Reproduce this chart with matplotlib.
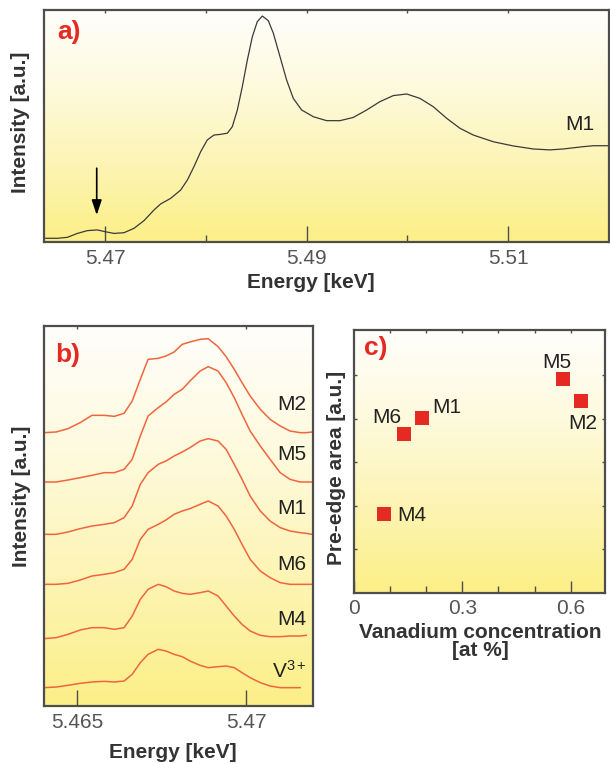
import numpy as np
import matplotlib
matplotlib.use("Agg")
import matplotlib.pyplot as plt
from matplotlib.colors import LinearSegmentedColormap

plt.rcParams['font.family'] = ['Liberation Sans', 'DejaVu Sans']
plt.rcParams['mathtext.fontset'] = 'custom'
plt.rcParams['mathtext.rm'] = 'Liberation Sans'
plt.rcParams['mathtext.it'] = 'Liberation Sans:italic'
plt.rcParams['mathtext.bf'] = 'Liberation Sans:bold'

# ---------------- data ----------------
# (a) full XANES spectrum of sample M1
energy_a = [5.46411, 5.46527, 5.46626, 5.46726, 5.46825, 5.46924, 5.47007, 5.47089,
            5.47188, 5.47288, 5.47387, 5.47486, 5.47552, 5.47651, 5.47751, 5.47817,
            5.47883, 5.47949, 5.48015, 5.48081, 5.48148, 5.48214, 5.48263, 5.48313,
            5.48362, 5.48412, 5.48462, 5.48511, 5.48561, 5.48620, 5.48670, 5.48736,
            5.48802, 5.48868, 5.48951, 5.49067, 5.49199, 5.49331, 5.49464, 5.49596,
            5.49728, 5.49860, 5.49993, 5.50125, 5.50257, 5.50390, 5.50522, 5.50654,
            5.50853, 5.51051, 5.51249, 5.51415, 5.51547, 5.51646, 5.51745, 5.51845,
            5.51994]
intensity_a = [0.016, 0.016, 0.020, 0.037, 0.049, 0.052, 0.044, 0.037,
               0.040, 0.059, 0.092, 0.138, 0.164, 0.188, 0.224, 0.267,
               0.325, 0.389, 0.440, 0.461, 0.464, 0.469, 0.497, 0.569,
               0.669, 0.784, 0.885, 0.950, 0.974, 0.954, 0.900, 0.799,
               0.698, 0.619, 0.569, 0.540, 0.523, 0.523, 0.537, 0.569,
               0.605, 0.631, 0.638, 0.619, 0.583, 0.533, 0.490, 0.461,
               0.432, 0.414, 0.401, 0.397, 0.401, 0.406, 0.411, 0.415,
               0.415]
pre_edge_energy = 5.46918

# (b) pre-edge region, vertically stacked spectra
energy_b = [5.46401, 5.46437, 5.46472, 5.46508, 5.46543, 5.46579, 5.46609, 5.46638,
            5.46662, 5.46686, 5.46709, 5.46739, 5.46762, 5.46786, 5.46810, 5.46833,
            5.46863, 5.46887, 5.46916, 5.46940, 5.46964, 5.46987, 5.47011, 5.47041,
            5.47070, 5.47100, 5.47129, 5.47159, 5.47177, 5.47194]
nan = np.nan
spec_M2 = [8.20, 8.22, 8.32, 8.50, 8.72, 8.72, 8.69, 8.78, 9.15, 9.80,
           10.40, 10.43, 10.50, 10.62, 10.85, 10.92, 11.00, 11.02, 10.78, 10.48,
           10.10, 9.70, 9.30, 8.90, 8.60, 8.40, 8.25, 8.20, 8.20, 8.22]
spec_M5 = [6.72, 6.72, 6.78, 6.85, 6.92, 7.00, 7.00, 7.10, 7.40, 8.10,
           8.70, 8.95, 9.12, 9.35, 9.50, 9.75, 10.05, 10.18, 10.05, 9.70,
           9.25, 8.75, 8.25, 7.80, 7.40, 7.00, 6.80, 6.72, 6.72, 6.72]
spec_M1 = [5.15, 5.15, 5.22, 5.32, 5.40, 5.45, 5.50, 5.65, 6.00, 6.65,
           7.00, 7.25, 7.35, 7.50, 7.62, 7.75, 7.95, 8.02, 7.95, 7.70,
           7.25, 6.80, 6.30, 5.85, 5.55, 5.35, 5.25, 5.20, 5.18, 5.15]
spec_M6 = [3.65, 3.65, 3.68, 3.78, 3.90, 3.95, 4.00, 4.10, 4.40, 5.00,
           5.30, 5.45, 5.58, 5.75, 5.85, 5.92, 6.05, 6.15, 6.00, 5.70,
           5.30, 4.85, 4.40, 4.05, 3.85, 3.70, 3.65, 3.65, 3.65, 3.65]
spec_M4 = [2.02, 2.05, 2.15, 2.28, 2.35, 2.35, 2.30, 2.35, 2.70, 3.20,
           3.50, 3.65, 3.58, 3.45, 3.38, 3.35, 3.40, 3.45, 3.30, 3.00,
           2.70, 2.45, 2.25, 2.12, 2.08, 2.08, 2.10, 2.10, 2.12, nan]
spec_V3 = [0.55, 0.57, 0.62, 0.68, 0.72, 0.74, 0.72, 0.75, 0.95, 1.30,
           1.55, 1.70, 1.65, 1.55, 1.48, 1.35, 1.22, 1.15, 1.18, 1.20,
           1.15, 1.00, 0.85, 0.70, 0.60, 0.55, 0.55, 0.55, nan, nan]
spectra_b = [spec_M2, spec_M5, spec_M1, spec_M6, spec_M4, spec_V3]
labels_b = ['M2', 'M5', 'M1', 'M6', 'M4', r'V$^{3+}$']
label_y_b = [9.05, 7.55, 5.92, 4.25, 2.60, 1.05]

# (c) pre-edge area vs vanadium concentration
samples_c = ['M4', 'M6', 'M1', 'M5', 'M2']
conc_c = [0.084, 0.1375, 0.188, 0.579, 0.628]
area_c = [1.81, 3.65, 4.02, 4.91, 4.41]
label_offsets_c = [(27, -1), (-17, 17), (25, 10), (-6, 17), (2, -23)]

# ---------------- style ----------------
W, H = 610, 764
RED = '#e42a22'
FRAME = '#4d4d4d'
TICKLABEL = '#555555'
SPEC_B = '#f0653d'
grad = LinearSegmentedColormap.from_list(
    'paper', ['#fcef87', '#fdf4b4', '#fefadd', '#fffefb'])

fig = plt.figure(figsize=(W / 100, H / 100), dpi=100)


def px_axes(left, top, right, bottom):
    return fig.add_axes([left / W, 1 - bottom / H, (right - left) / W, (bottom - top) / H])


def style(ax):
    ax.imshow(np.linspace(0, 1, 256)[:, None], extent=(0, 1, 0, 1), origin='lower',
              transform=ax.transAxes, aspect='auto', cmap=grad, zorder=0,
              interpolation='bicubic')
    for s in ax.spines.values():
        s.set_color(FRAME)
        s.set_linewidth(1.6)
        s.set_zorder(5)


def top_ticks(ax, ticks):
    sec = ax.secondary_xaxis('top')
    sec.set_xticks(ticks)
    sec.tick_params(direction='in', length=2.5, width=1.0, color=FRAME, labeltop=False)
    sec.spines['top'].set_visible(False)


def ftext(x, y, s, **kw):
    fig.text(x / W, 1 - y / H, s, ha='center', va='center', **kw)


# ---------------- panel a ----------------
ax = px_axes(44, 10, 609, 242)
style(ax)
ax.plot(energy_a, intensity_a, color='#3a3a3a', lw=0.9, zorder=3)
ax.set_xlim(5.46395, 5.5200)
ax.set_ylim(0, 1.0)
ax.set_yticks([])
ax.set_xticks([5.47, 5.49, 5.51])
ax.set_xticklabels(['5.47', '5.49', '5.51'])
ax.set_xticks([5.48, 5.50], minor=True)
ax.tick_params(axis='x', which='major', direction='in', length=11.5, width=1.0,
               color=FRAME, labelsize=15, labelcolor=TICKLABEL, pad=5)
ax.tick_params(axis='x', which='minor', direction='in', length=5, width=1.0, color=FRAME)
top_ticks(ax, [5.47, 5.48, 5.49, 5.50, 5.51])
ax.annotate('', xy=(pre_edge_energy, 0.116), xytext=(pre_edge_energy, 0.318),
            arrowprops=dict(arrowstyle='-|>,head_length=0.9,head_width=0.3',
                            color='black', lw=1.2, shrinkA=0, shrinkB=0), zorder=4)
ax.text(0.044, 0.906, 'a)', transform=ax.transAxes, ha='center', va='center',
        color=RED, fontsize=19, fontweight='bold')
ax.text(0.949, 0.505, 'M1', transform=ax.transAxes, ha='center', va='center',
        color='#222222', fontsize=15)
ftext(311, 283, 'Energy [keV]', fontsize=15, fontweight='bold', color='#333333')
ftext(21, 122, 'Intensity [a.u.]', fontsize=15, fontweight='bold', color='#333333',
      rotation=90)

# ---------------- panel b ----------------
bx = px_axes(44, 326, 313, 706)
style(bx)
for spec, lab, ly in zip(spectra_b, labels_b, label_y_b):
    bx.plot(energy_b, spec, color=SPEC_B, lw=1.1, zorder=3, solid_joinstyle='round')
    bx.text(5.47177, ly, lab, ha='right', va='center', fontsize=15, color='#222222')
bx.set_xlim(5.46401, 5.47197)
bx.set_ylim(0, 11.4)
bx.set_yticks([])
bx.set_xticks([5.465, 5.47])
bx.set_xticklabels(['5.465', '5.47'])
bx.tick_params(axis='x', direction='in', length=11.5, width=1.0, color=FRAME,
               labelsize=15, labelcolor=TICKLABEL, pad=5)
top_ticks(bx, [5.465, 5.47])
bx.text(0.089, 0.924, 'b)', transform=bx.transAxes, ha='center', va='center',
        color=RED, fontsize=19, fontweight='bold')
ftext(173, 752, 'Energy [keV]', fontsize=15, fontweight='bold', color='#333333')
ftext(22, 496, 'Intensity [a.u.]', fontsize=15, fontweight='bold', color='#333333',
      rotation=90)

# ---------------- panel c ----------------
cx = px_axes(354, 330, 605, 593)
style(cx)
cx.plot(conc_c, area_c, linestyle='none', marker='s', markersize=9.5,
        color=RED, markeredgewidth=0, zorder=4)
for name, xv, yv, off in zip(samples_c, conc_c, area_c, label_offsets_c):
    cx.annotate(name, (xv, yv), xytext=off, textcoords='offset pixels',
                ha='center', va='center', fontsize=15, color='#222222')
cx.set_xlim(0, 0.695)
cx.set_ylim(0, 6.04)
cx.set_xticks([0, 0.3, 0.6])
cx.set_xticklabels(['0', '0.3', '0.6'])
cx.set_xticks([0.1, 0.2, 0.4, 0.5], minor=True)
cx.tick_params(axis='x', which='major', direction='in', length=9, width=1.0,
               color=FRAME, labelsize=15, labelcolor=TICKLABEL, pad=4)
cx.tick_params(axis='x', which='minor', direction='in', length=5, width=1.0, color=FRAME)
cx.set_yticks([1, 2, 3, 4, 5])
cx.tick_params(axis='y', direction='in', length=2.5, width=1.0, color=FRAME,
               left=True, right=True, labelleft=False)
top_ticks(cx, [0.1, 0.2, 0.3, 0.4, 0.5, 0.6])
cx.text(0.088, 0.93, 'c)', transform=cx.transAxes, ha='center', va='center',
        color=RED, fontsize=19, fontweight='bold')
ftext(480, 632, 'Vanadium concentration', fontsize=15, fontweight='bold', color='#333333')
ftext(480, 651, '[at %]', fontsize=15, fontweight='bold', color='#333333')
ftext(337, 468, 'Pre-edge area [a.u.]', fontsize=15, fontweight='bold', color='#333333',
      rotation=90)

fig.savefig('out.png', dpi=100)
